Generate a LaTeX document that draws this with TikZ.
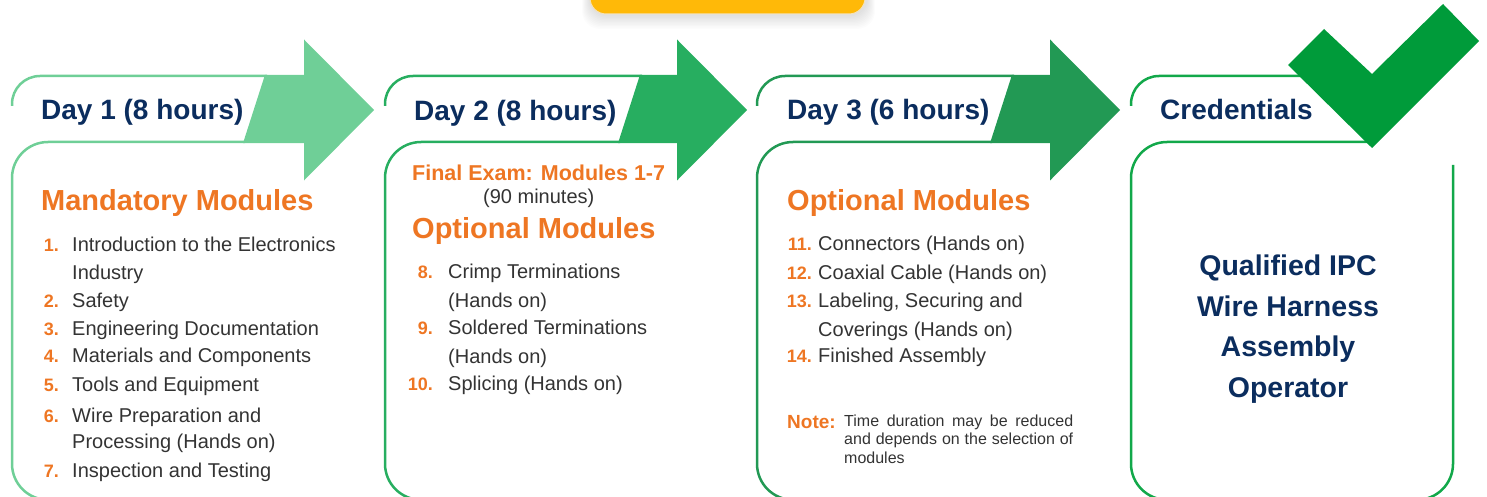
\documentclass[tikz,border=0pt]{standalone}
\usepackage{fontspec}
\setmainfont{Liberation Sans}
\definecolor{navy}{HTML}{0B2D5E}
\definecolor{orng}{HTML}{EE7623}
\definecolor{txt}{HTML}{333333}
\definecolor{gA}{HTML}{6FCF97}
\definecolor{gB}{HTML}{27AE60}
\definecolor{gC}{HTML}{229954}
\definecolor{gD}{HTML}{12A84A}
\definecolor{chk}{HTML}{009B3A}
\definecolor{ylw}{HTML}{FFB908}
\definecolor{ylwrim}{HTML}{F3E2BC}
\tikzset{
  frame/.style={line width=2.5pt},
  hdr/.style={font=\fontsize{28}{32}\selectfont\bfseries, text=navy, anchor=base west, inner sep=0pt},
  modhead/.style={font=\fontsize{29}{33}\selectfont\bfseries, text=orng, anchor=base west, inner sep=0pt},
  num/.style={font=\fontsize{18}{22}\selectfont\bfseries, text=orng, anchor=base east, inner sep=0pt},
  item/.style={font=\fontsize{20}{24}\selectfont, text=txt, anchor=base west, inner sep=0pt},
  cred/.style={font=\fontsize{28.5}{34}\selectfont\bfseries, text=navy, anchor=base, inner sep=0pt},
}
\begin{document}
\begin{tikzpicture}[x=1pt,y=-1pt]
\useasboundingbox (0,0) rectangle (1487,497);

% yellow tab at top with soft shadow
\foreach \i in {1,...,10}
  \fill[black, opacity=0.012, rounded corners=18] (590-\i*0.8,-30) rectangle (867+\i*0.8, 15+\i*1.4);
\fill[ylw, draw=ylwrim, line width=1pt, rounded corners=16] (590,-30) rectangle (865,14);

% day panels
\foreach \X/\ST/\SB/\BR/\T/\c in {12/265/243/304/374/gA, 385/640/618/677/747/gB, 757/1012/990/1050/1120/gC}{
  \draw[frame,\c,rounded corners=28] (\X,106) -- (\X,76) -- (\ST+2,76);
  \draw[frame,\c,rounded corners=36] (\X+60,499.8) -- (\X,499.8) -- (\X,142) -- (\SB+2,142);
  \fill[\c] (\ST,74.8) -- (\BR,74.8) -- (\BR,39.5) -- (\T,110) -- (\BR,180.5) -- (\BR,143.2) -- (\SB,143.2) -- cycle;
}

% credentials panel
\draw[frame,gD,rounded corners=28] (1131,106) -- (1131,76) -- (1320,76);
\draw[frame,gD,rounded corners=36] (1453,165) -- (1453,499.8) -- (1131,499.8) -- (1131,142) -- (1370,142);
\fill[chk] (1288,65) -- (1324,29) -- (1372,74) -- (1443,4) -- (1479,41) -- (1372,148) -- cycle;

% headers
\node[hdr] (h1) at (41,120) {Day 1 (8 hours)};
\node[hdr] (h2) at (414,121) {Day 2 (8 hours)};
\node[hdr] (h3) at (787,120) {Day 3 (6 hours)};
\node[hdr] (h4) at (1160,120) {Credentials};

% Day 1
\node[modhead] (m1) at (41,211) {Mandatory Modules};
\node[num] (n1) at (59,251) {1.};  \node[item] (t1) at (72,251) {Introduction to the Electronics};
\node[item] (t1b) at (72,279) {Industry};
\node[num] (n2) at (59,307) {2.};  \node[item] (t2) at (72,307) {Safety};
\node[num] (n3) at (59,335) {3.};  \node[item] (t3) at (72,335) {Engineering Documentation};
\node[num] (n4) at (59,362) {4.};  \node[item] (t4) at (72,362) {Materials and Components};
\node[num] (n5) at (59,391) {5.};  \node[item] (t5) at (72,391) {Tools and Equipment};
\node[num] (n6) at (59,422) {6.};  \node[item] (t6) at (72,422) {Wire Preparation and};
\node[item] (t6b) at (72,448) {Processing (Hands on)};
\node[num] (n7) at (59,477) {7.};  \node[item] (t7) at (72,477) {Inspection and Testing};

% Day 2
\node[font=\fontsize{21.5}{25}\selectfont\bfseries, text=orng, anchor=base west, inner sep=0pt] (fe) at (412,180) {Final Exam: Modules 1-7};
\node[item] (fm) at (483,203) {(90 minutes)};
\node[modhead] (m2) at (412,238) {Optional Modules};
\node[num] (n8) at (433,278) {8.};  \node[item] (t8) at (448,278) {Crimp Terminations};
\node[item] (t8b) at (448,307) {(Hands on)};
\node[num] (n9) at (433,334) {9.};  \node[item] (t9) at (448,334) {Soldered Terminations};
\node[item] (t9b) at (448,363) {(Hands on)};
\node[num] (n10) at (433,390) {10.}; \node[item] (t10) at (448,390) {Splicing (Hands on)};

% Day 3
\node[modhead] (m3) at (787,210) {Optional Modules};
\node[num] (n11) at (812,250) {11.}; \node[item] (t11) at (818,250) {Connectors (Hands on)};
\node[num] (n12) at (812,279) {12.}; \node[item] (t12) at (818,279) {Coaxial Cable (Hands on)};
\node[num] (n13) at (812,307) {13.}; \node[item] (t13) at (818,307) {Labeling, Securing and};
\node[item] (t13b) at (818,336) {Coverings (Hands on)};
\node[num] (n14) at (812,362) {14.}; \node[item] (t14) at (818,362) {Finished Assembly};

\node[font=\fontsize{19}{22}\selectfont\bfseries, text=orng, anchor=base west, inner sep=0pt] (note) at (787,428) {Note:};
\node[font=\fontsize{16}{18.5}\selectfont, text=txt, anchor=base west, inner sep=0pt, text width=229pt, align=justify] (notetxt) at (844,426) {\hyphenpenalty=10000 Time duration may be reduced\linebreak and depends on the selection of\linebreak modules};

% Credentials text
\node[cred] (c1) at (1288,275) {Qualified IPC};
\node[cred] (c2) at (1288,316) {Wire Harness};
\node[cred] (c3) at (1288,356) {Assembly};
\node[cred] (c4) at (1288,397) {Operator};
\end{tikzpicture}
\end{document}
